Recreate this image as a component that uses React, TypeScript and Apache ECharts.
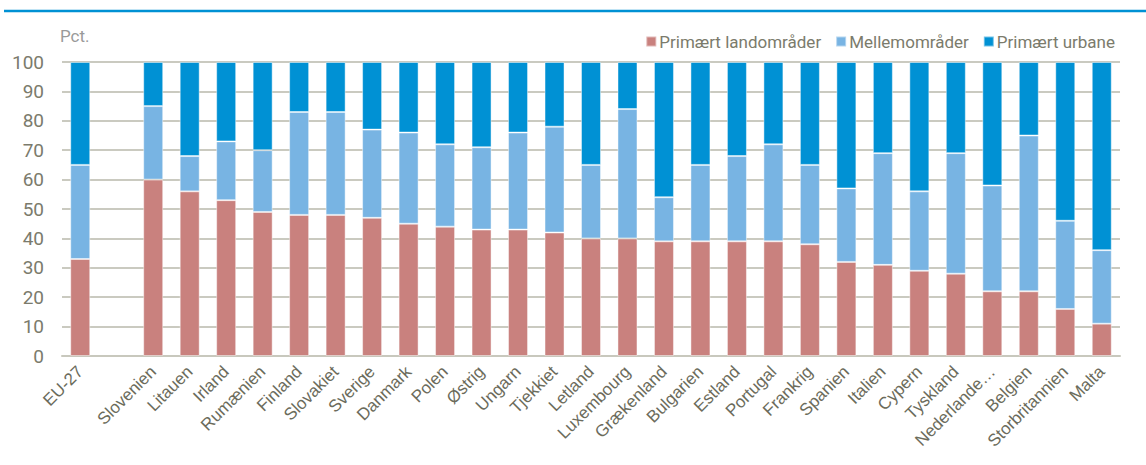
import React, { useEffect, useRef } from "react";
import * as echarts from "echarts";

const categories = [
  "EU-27", "", "Slovenien", "Litauen", "Irland", "Rumænien", "Finland", "Slovakiet",
  "Sverige", "Danmark", "Polen", "Østrig", "Ungarn", "Tjekkiet", "Letland",
  "Luxembourg", "Grækenland", "Bulgarien", "Estland", "Portugal", "Frankrig",
  "Spanien", "Italien", "Cypern", "Tyskland", "Nederlande…", "Belgien",
  "Storbritannien", "Malta",
];

// Share in primarily rural regions (pct.)
const rural: (number | null)[] = [
  33, null, 60, 56, 53, 49, 48, 48, 47, 45, 44, 43, 43, 42, 40, 40, 39, 39, 39,
  39, 38, 32, 31, 29, 28, 22, 22, 16, 11,
];
// Share in intermediate regions (pct.)
const intermediate: (number | null)[] = [
  32, null, 25, 12, 20, 21, 35, 35, 30, 31, 28, 28, 33, 36, 25, 44, 15, 26, 29,
  33, 27, 25, 38, 27, 41, 36, 53, 30, 25,
];
// Share in primarily urban regions (pct.)
const urban: (number | null)[] = [
  35, null, 15, 32, 27, 30, 17, 17, 23, 24, 28, 29, 24, 22, 35, 16, 46, 35, 32,
  28, 35, 43, 31, 44, 31, 42, 25, 54, 64,
];

const yTicks = { min: 0, max: 100, interval: 10 };

const NARROW = "Roboto, 'Liberation Sans Narrow', sans-serif";
const SANS = "'Liberation Sans', Arial, sans-serif";

export default function App() {
  const ref = useRef<HTMLDivElement>(null);

  useEffect(() => {
    if (!ref.current) return;
    const chart = echarts.init(ref.current, undefined, { renderer: "svg" });
    const border = { borderColor: "rgba(255,255,255,0.45)", borderWidth: 1 };
    chart.setOption({
      animation: false,
      backgroundColor: "#ffffff",
      graphic: [
        {
          type: "line",
          shape: { x1: 4, y1: 11, x2: 1146, y2: 11 },
          style: { stroke: "#0091D4", lineWidth: 2.5 },
        },
        {
          type: "text",
          left: 60,
          top: 27,
          style: { text: "Pct.", fontSize: 17, fontFamily: NARROW, fill: "#9a9a9a" },
        },
      ],
      legend: {
        right: 26,
        top: 28,
        icon: "rect",
        itemWidth: 10,
        itemHeight: 10,
        itemGap: 14,
        textStyle: { fontSize: 17, fontFamily: NARROW, color: "#7b7b6c", padding: [0, 0, 0, -2] },
        data: ["Primært landområder", "Mellemområder", "Primært urbane"],
      },
      grid: { left: 62, right: 26, top: 62, bottom: 109 },
      xAxis: {
        type: "category",
        data: categories,
        axisTick: { show: false },
        axisLine: { show: true, lineStyle: { color: "#c8c8bd", width: 2 } },
        axisLabel: {
          interval: 0,
          rotate: 45,
          fontSize: 17,
          fontFamily: SANS,
          color: "#6b6b5b",
          margin: 13,
        },
      },
      yAxis: {
        type: "value",
        min: yTicks.min,
        max: yTicks.max,
        interval: yTicks.interval,
        axisLine: { show: false },
        axisTick: { show: false },
        splitLine: { lineStyle: { color: "#b9b9ab", width: 1.5 } },
        axisLabel: { fontSize: 19, fontFamily: NARROW, color: "#7b7b6c", margin: 18 },
      },
      series: [
        {
          name: "Primært landområder",
          type: "bar",
          stack: "all",
          barWidth: 20,
          data: rural,
          itemStyle: { color: "#C9817E", ...border },
        },
        {
          name: "Mellemområder",
          type: "bar",
          stack: "all",
          barWidth: 20,
          data: intermediate,
          itemStyle: { color: "#78B4E3", ...border },
        },
        {
          name: "Primært urbane",
          type: "bar",
          stack: "all",
          barWidth: 20,
          data: urban,
          itemStyle: { color: "#0091D4", ...border },
        },
      ],
    });
    return () => chart.dispose();
  }, []);

  return (
    <div
      ref={ref}
      style={{ position: "fixed", left: 0, top: 0, width: 1146, height: 465, background: "#fff" }}
    />
  );
}
